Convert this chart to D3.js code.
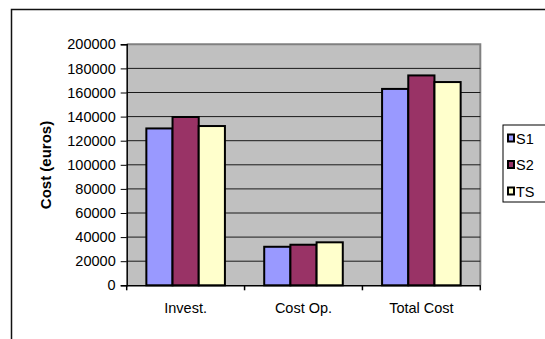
<!DOCTYPE html>
<html lang="en">
<head>
<meta charset="UTF-8"/>
<title>Cost chart</title>
<script src="https://d3js.org/d3.v7.min.js"></script>
<style>
    body { margin: 0; background: white; }
    svg  { display: block; font-family: "Liberation Sans", Arial, sans-serif; }
</style>
</head>
<body>
<script>
// chart data
var categories = ["Invest.", "Cost Op.", "Total Cost"];
var seriesNames = ["S1", "S2", "TS"];
var s1Values = [131000, 32800, 163800];
var s2Values = [140500, 34500, 175000];
var tsValues = [133000, 36500, 169500];
var yTicks = [0, 20000, 40000, 60000, 80000, 100000, 120000, 140000, 160000, 180000, 200000];

var seriesValues = [s1Values, s2Values, tsValues];
var colors = ["#9999ff", "#993366", "#ffffcc"];

var w = 545, h = 339;
// plot area edges (don't call these top/left, window.top is read only)
var plotL = 126.7, plotR = 480.3, plotT = 44.3, plotB = 285.3;

var svg = d3.select("body").append("svg")
    .attr("width", w)
    .attr("height", h);

// outer frame (runs off the right and bottom edges)
svg.append("rect")
    .attr("x", 11.5).attr("y", 9.5)
    .attr("width", 600).attr("height", 400)
    .attr("fill", "white")
    .attr("stroke", "#111")
    .attr("stroke-width", 1.5);

var x = d3.scaleBand()
    .domain(categories)
    .range([plotL, plotR]);

var barW = x.bandwidth() / 4.5;
var xs = d3.scaleBand()
    .domain(seriesNames)
    .range([(x.bandwidth() - 3 * barW) / 2, (x.bandwidth() + 3 * barW) / 2]);

var y = d3.scaleLinear()
    .domain([0, 200000])
    .range([plotB, plotT]);

// plot area
svg.append("rect")
    .attr("x", plotL).attr("y", plotT)
    .attr("width", plotR - plotL).attr("height", plotB - plotT)
    .attr("fill", "#c0c0c0");

svg.append("path")
    .attr("d", "M" + plotL + "," + plotT + "H" + plotR + "V" + plotB)
    .attr("fill", "none")
    .attr("stroke", "#808080")
    .attr("stroke-width", 2);

// gridlines
svg.selectAll("line.grid")
    .data(yTicks.slice(1, yTicks.length - 1))
    .enter()
    .append("line")
    .attr("class", "grid")
    .attr("x1", plotL).attr("x2", plotR)
    .attr("y1", function(d){ return y(d); })
    .attr("y2", function(d){ return y(d); })
    .attr("stroke", "#1a1a1a")
    .attr("stroke-width", 1);

// bars
var rows = [];
categories.forEach(function(c, i){
    seriesNames.forEach(function(s, j){
        rows.push({cat: c, series: s, value: seriesValues[j][i], color: colors[j]});
    });
});

svg.selectAll("rect.bar")
    .data(rows)
    .enter()
    .append("rect")
    .attr("class", "bar")
    .attr("x", function(d){ return x(d.cat) + xs(d.series); })
    .attr("y", function(d){ return y(d.value) + 1; })
    .attr("width", xs.bandwidth())
    .attr("height", function(d){ return plotB - y(d.value) - 1; })
    .attr("fill", function(d){ return d.color; })
    .attr("stroke", "black")
    .attr("stroke-width", 2);

// y axis
var yAxis = svg.append("g")
    .attr("transform", "translate(" + plotL + ",0)")
    .call(d3.axisLeft(y).tickValues(yTicks).tickFormat(d3.format("d")).tickSize(6).tickPadding(5));
yAxis.select(".domain").attr("stroke", "black").attr("stroke-width", 1.5);
yAxis.selectAll("text")
    .attr("fill", "black")
    .style("font-size", "14.5px")
    .style("font-family", "'Liberation Sans', Arial, sans-serif");

// x axis
var xAxis = svg.append("g")
    .attr("transform", "translate(0," + plotB + ")")
    .call(d3.axisBottom(x).tickSize(0).tickPadding(17));
xAxis.select(".domain").attr("stroke", "black").attr("stroke-width", 1.5);
xAxis.selectAll("text")
    .attr("fill", "black")
    .style("font-size", "14.5px")
    .style("font-family", "'Liberation Sans', Arial, sans-serif");

// category boundary ticks
var bounds = categories.map(function(c){ return x(c); }).concat([plotR]);
svg.selectAll("line.xtick")
    .data(bounds)
    .enter()
    .append("line")
    .attr("class", "xtick")
    .attr("x1", function(d){ return d; }).attr("x2", function(d){ return d; })
    .attr("y1", plotB).attr("y2", plotB + 5)
    .attr("stroke", "black")
    .attr("stroke-width", 1.5);

// y title
svg.append("text")
    .attr("transform", "translate(51,165) rotate(-90)")
    .attr("text-anchor", "middle")
    .style("font-size", "15px")
    .style("font-weight", "bold")
    .text("Cost (euros)");

// legend
var legend = svg.append("g");
legend.append("rect")
    .attr("x", 503).attr("y", 125)
    .attr("width", 60).attr("height", 77)
    .attr("fill", "white")
    .attr("stroke", "black")
    .attr("stroke-width", 1);

var legendY = d3.scalePoint()
    .domain(seriesNames)
    .range([138, 191]);

legend.selectAll("rect.sw")
    .data(seriesNames)
    .enter()
    .append("rect")
    .attr("class", "sw")
    .attr("x", 508).attr("y", function(d){ return legendY(d) - 3.5; })
    .attr("width", 6).attr("height", 7)
    .attr("fill", function(d, i){ return colors[i]; })
    .attr("stroke", "black")
    .attr("stroke-width", 2);

legend.selectAll("text")
    .data(seriesNames)
    .enter()
    .append("text")
    .attr("x", 516).attr("y", function(d){ return legendY(d) + 5.5; })
    .style("font-size", "14.5px")
    .text(function(d){ return d; });
</script>
</body>
</html>
